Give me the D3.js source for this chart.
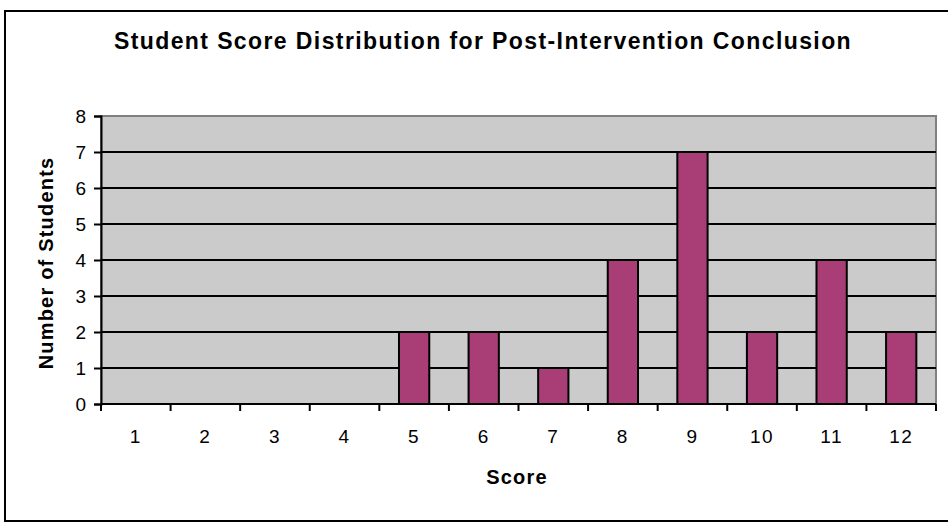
<!DOCTYPE html>
<html>
<head>
<meta charset="utf-8">
<script src="https://cdn.jsdelivr.net/npm/d3@7"></script>
<style>
  body { margin: 0; background: #fff; }
  text { font-family: "Liberation Sans", Arial, sans-serif; fill: #000; }
</style>
</head>
<body>
<svg id="chart" width="948" height="529"></svg>
<script>
// data
var scores = ["1", "2", "3", "4", "5", "6", "7", "8", "9", "10", "11", "12"]
var students = [0, 0, 0, 0, 2, 2, 1, 4, 7, 2, 4, 2]
var yTicks = [0, 1, 2, 3, 4, 5, 6, 7, 8]

var dims = {
    width: 948,
    height: 529,
    margin: { top: 116, bottom: 125, left: 101, right: 12 }
}

var svg = d3.select("#chart")

// outer chart border
svg.append("rect")
    .attr("x", 5).attr("y", 11)
    .attr("width", 960).attr("height", 510)
    .attr("fill", "#fff")
    .attr("stroke", "#000")
    .attr("stroke-width", 2)

var x0 = dims.margin.left
var x1 = dims.width - dims.margin.right
var y0 = dims.height - dims.margin.bottom
var y1 = dims.margin.top

var xScale = d3.scaleBand()
    .domain(scores)
    .range([x0, x1])
    .paddingInner(0.565)
    .paddingOuter(0.2825)

var bandScale = d3.scaleBand().domain(scores).range([x0, x1])

var yScale = d3.scaleLinear()
    .domain([0, 8])
    .range([y0, y1])

// plot area
svg.append("rect")
    .attr("x", x0).attr("y", y1)
    .attr("width", x1 - x0).attr("height", y0 - y1)
    .attr("fill", "#cbcbcb")
    .attr("stroke", "#808080")
    .attr("stroke-width", 2)

// gridlines
svg.append("g")
    .selectAll("line")
    .data(yTicks.filter(d => d > 0 && d < 8))
    .enter()
    .append("line")
    .attr("x1", x0).attr("x2", x1)
    .attr("y1", d => yScale(d)).attr("y2", d => yScale(d))
    .attr("stroke", "#000")
    .attr("stroke-width", 2)

// bars
svg.append("g")
    .selectAll("rect")
    .data(students)
    .enter()
    .append("rect")
    .attr("x", (d, i) => xScale(scores[i]))
    .attr("y", d => yScale(d))
    .attr("width", xScale.bandwidth())
    .attr("height", d => y0 - yScale(d))
    .attr("fill", "#a93d76")
    .attr("stroke", "#000")
    .attr("stroke-width", 2)
    .attr("display", d => d > 0 ? null : "none")

// y axis
var yAxisGen = d3.axisLeft(yScale)
    .tickValues(yTicks)
    .tickFormat(d3.format("d"))
    .tickSize(7)
    .tickPadding(8)

var yAxis = svg.append("g")
    .attr("transform", `translate(${x0},0)`)
    .call(yAxisGen)
yAxis.attr("font-size", null).attr("font-family", null)
yAxis.select(".domain").attr("stroke", "#000").attr("stroke-width", 2)
yAxis.selectAll(".tick line").attr("stroke-width", 2)
yAxis.selectAll("text").style("font-size", "19px").attr("dy", "0.36em")

// x axis: ticks on band edges, labels in band centres
var edges = scores.map(s => bandScale(s)).concat([x1])
var xAxisG = svg.append("g")
xAxisG.append("line")
    .attr("x1", x0).attr("x2", x1)
    .attr("y1", y0).attr("y2", y0)
    .attr("stroke", "#000").attr("stroke-width", 2)
xAxisG.selectAll(".edge")
    .data(edges)
    .enter()
    .append("line")
    .attr("x1", d => d).attr("x2", d => d)
    .attr("y1", y0).attr("y2", y0 + 7)
    .attr("stroke", "#000").attr("stroke-width", 2)
xAxisG.selectAll("text")
    .data(scores)
    .enter()
    .append("text")
    .attr("x", d => bandScale(d) + bandScale.bandwidth() / 2)
    .attr("y", y0 + 39)
    .attr("text-anchor", "middle")
    .style("font-size", "19px")
    .style("letter-spacing", "1.5px")
    .text(d => d)

// titles
svg.append("text")
    .attr("x", 483).attr("y", 49)
    .attr("text-anchor", "middle")
    .style("font-size", "23px")
    .style("font-weight", "bold")
    .style("letter-spacing", "1.4px")
    .text("Student Score Distribution for Post-Intervention Conclusion")

svg.append("text")
    .attr("x", 517).attr("y", 484)
    .attr("text-anchor", "middle")
    .style("font-size", "20px")
    .style("font-weight", "bold")
    .style("letter-spacing", "1.2px")
    .text("Score")

svg.append("text")
    .attr("transform", "translate(53,263) rotate(-90)")
    .attr("text-anchor", "middle")
    .style("font-size", "20px")
    .style("font-weight", "bold")
    .style("letter-spacing", "1.2px")
    .text("Number of Students")
</script>
</body>
</html>
